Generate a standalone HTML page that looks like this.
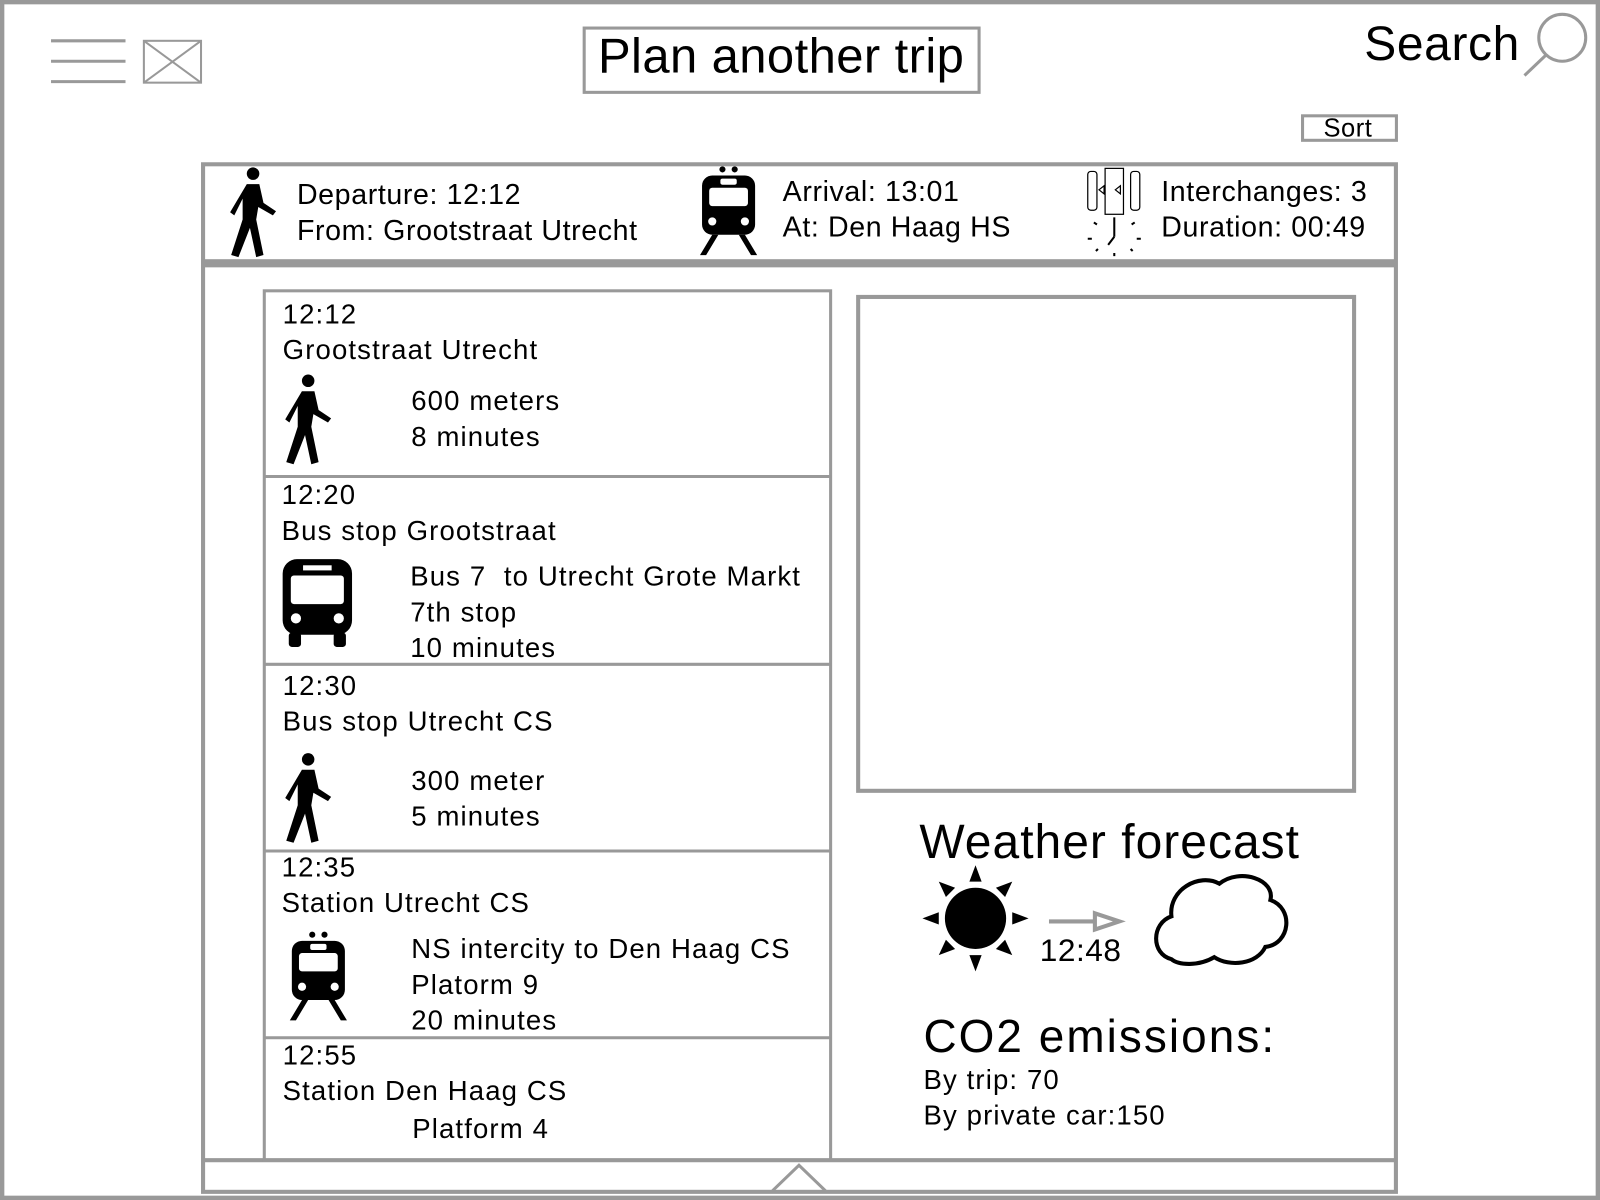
<!DOCTYPE html>
<html><head><meta charset="utf-8"><style>
html,body{margin:0;padding:0;background:#fff;width:1600px;height:1200px;overflow:hidden}
#w{position:absolute;left:0;top:0;width:1568px;height:1176px;transform:scale(1.020408);transform-origin:0 0;font-family:"Liberation Sans",sans-serif;color:#000}
.a{position:absolute;box-sizing:border-box}
.t{position:absolute;white-space:nowrap;line-height:1}
.l{letter-spacing:1.1px}
.h{letter-spacing:0.6px}
.g{border:3px solid #999}
</style></head><body>
<div id="w">
<svg class="a" style="left:0;top:0" width="1568" height="1176">
<defs>
<symbol id="walk" viewBox="0 0 60 90"><circle cx="30" cy="8" r="6"/><path d="M24 18 L36 18 L40 36 L52 44 L49 48 L35 40 L33 52 L40 86 L33 88 L27 60 L16 88 L9 86 L20 52 L20 32 L12 48 L8 45 Z"/></symbol>
<symbol id="train" viewBox="0 0 60 90"><circle cx="24" cy="4" r="3"/><circle cx="36" cy="4" r="3"/><rect x="4" y="10" width="52" height="58" rx="10"/><rect x="11" y="22" width="38" height="18" rx="3" fill="#fff"/><rect x="22" y="13" width="16" height="6" rx="2" fill="#fff"/><circle cx="14" cy="55" r="4" fill="#fff"/><circle cx="46" cy="55" r="4" fill="#fff"/><path d="M14 68 L20 68 L8 88 L2 88 Z M40 68 L46 68 L58 88 L52 88 Z"/></symbol>
<symbol id="bus" viewBox="0 0 72 90"><rect x="2" y="2" width="68" height="74" rx="14"/><rect x="10" y="18" width="52" height="28" rx="3" fill="#fff"/><rect x="22" y="8" width="28" height="5" fill="#fff"/><circle cx="15" cy="60" r="5" fill="#fff"/><circle cx="57" cy="60" r="5" fill="#fff"/><rect x="8" y="74" width="12" height="14" rx="3"/><rect x="52" y="74" width="12" height="14" rx="3"/></symbol>
</defs>
<rect x="2" y="2" width="1564" height="1172" fill="none" stroke="#999" stroke-width="4.5"/>
<g stroke="#999" stroke-width="3"><line x1="50" y1="40" x2="123" y2="40"/><line x1="50" y1="60" x2="123" y2="60"/><line x1="50" y1="80" x2="123" y2="80"/></g>
<g stroke="#999" stroke-width="2" fill="none"><rect x="141" y="40" width="56" height="41"/><path d="M141 40 L197 81 M197 40 L141 81"/></g>
<g stroke="#999" stroke-width="3" fill="none"><circle cx="1531" cy="37" r="23"/><line x1="1515" y1="54" x2="1494" y2="74"/></g>
<rect x="199" y="161" width="1169" height="1007" fill="none" stroke="#999" stroke-width="4"/>
<rect x="199" y="254" width="1169" height="8" fill="#999"/>
<line x1="199" y1="1137" x2="1368" y2="1137" stroke="#999" stroke-width="4"/>
<path d="M757 1167 L783 1142 L809 1167" fill="none" stroke="#999" stroke-width="3"/>
<rect x="259" y="285" width="555" height="852" fill="none" stroke="#999" stroke-width="3"/>
<g stroke="#999" stroke-width="3"><line x1="259" y1="467" x2="814" y2="467"/><line x1="259" y1="651" x2="814" y2="651"/><line x1="259" y1="834" x2="814" y2="834"/><line x1="259" y1="1017" x2="814" y2="1017"/></g>
<rect x="841" y="291" width="486" height="484" fill="none" stroke="#999" stroke-width="4"/>
<use href="#walk" x="216" y="162" width="64" height="92"/>
<use href="#train" x="684" y="162" width="60" height="90"/>
<use href="#walk" x="270" y="365" width="64" height="92"/>
<use href="#bus" x="274" y="546" width="74" height="90"/>
<use href="#walk" x="270" y="736" width="64" height="92"/>
<use href="#train" x="282" y="912" width="60" height="90"/>
<g stroke="#000" fill="none" stroke-width="1.2"><rect x="1066" y="168" width="9" height="38" rx="3"/><rect x="1108" y="168" width="9" height="38" rx="3"/><rect x="1083" y="165" width="18" height="45"/><path d="M1077 186 l5-4 v8 z M1093 186 l5-4 v8 z"/></g>
<g stroke="#000" stroke-width="2"><line x1="1092" y1="213" x2="1092" y2="232"/><line x1="1092" y1="232" x2="1086" y2="240"/><path d="M1072 218 l3 2 M1112 218 l-3 2 M1066 234 h4 M1114 234 h4 M1074 246 l2-2 M1110 246 l-2-2 M1092 248 v3"/></g>
<g><circle cx="956" cy="900" r="30"/><path d="M956 848 l-6 16 h12z M956 952 l-6-16 h12z M904 900 l16-6 v12z M1008 900 l-16-6 v12z M920 864 l16 6 -9 9z M992 864 l-16 6 9 9z M920 936 l16-6 -9-9z M992 936 l-16-6 9-9z"/></g>
<g stroke="#999" stroke-width="4" fill="none"><line x1="1028" y1="903" x2="1072" y2="903"/><path d="M1073 895 L1097 903 L1073 911 Z"/></g>
<path d="M1148 940 C1128 935 1128 905 1148 898 C1145 872 1175 855 1195 866 C1215 850 1250 862 1245 882 C1268 890 1265 925 1240 928 C1232 945 1205 948 1190 938 C1175 947 1155 946 1148 940 Z" fill="none" stroke="#000" stroke-width="4"/>
</svg>
<div class="a g" style="left:571px;top:26px;width:390px;height:66px"></div>
<div class="t" style="left:586px;top:32px;font-size:48px;letter-spacing:0.4px">Plan another trip</div>
<div class="t" style="left:1337px;top:19px;font-size:47px;letter-spacing:0.6px">Search</div>
<div class="a g" style="left:1275px;top:112px;width:95px;height:27px"></div>
<div class="t" style="left:1297px;top:114px;font-size:25px;letter-spacing:0.5px">Sort</div>
<div class="t h" style="left:291px;top:173px;font-size:28px;line-height:35px">Departure: 12:12<br>From: Grootstraat Utrecht</div>
<div class="t h" style="left:767px;top:170px;font-size:28px;line-height:35px">Arrival: 13:01<br>At: Den Haag HS</div>
<div class="t h" style="left:1138px;top:170px;font-size:28px;line-height:35px">Interchanges: 3<br>Duration: 00:49</div>
<div class="t l" style="left:277px;top:291px;font-size:27px;line-height:35px">12:12<br>Grootstraat Utrecht</div>
<div class="t l" style="left:403px;top:376px;font-size:27px;line-height:35px">600 meters<br>8 minutes</div>
<div class="t l" style="left:276px;top:468px;font-size:27px;line-height:35px">12:20<br>Bus stop Grootstraat</div>
<div class="t l" style="left:402px;top:548px;font-size:27px;line-height:35px">Bus 7&nbsp; to Utrecht Grote Markt<br>7th stop<br>10 minutes</div>
<div class="t l" style="left:277px;top:655px;font-size:27px;line-height:35px">12:30<br>Bus stop Utrecht CS</div>
<div class="t l" style="left:403px;top:748px;font-size:27px;line-height:35px">300 meter<br>5 minutes</div>
<div class="t l" style="left:276px;top:833px;font-size:27px;line-height:35px">12:35<br>Station Utrecht CS</div>
<div class="t l" style="left:403px;top:913px;font-size:27px;line-height:35px">NS intercity to Den Haag CS<br>Platorm 9<br>20 minutes</div>
<div class="t l" style="left:277px;top:1017px;font-size:27px;line-height:35px">12:55<br>Station Den Haag CS</div>
<div class="t l" style="left:404px;top:1093px;font-size:27px">Platform 4</div>
<div class="t" style="left:901px;top:801px;font-size:47px;letter-spacing:1px">Weather forecast</div>
<div class="t" style="left:1019px;top:916px;font-size:31px;letter-spacing:0.5px">12:48</div>
<div class="t" style="left:905px;top:993px;font-size:45px;letter-spacing:2px">CO2 emissions:</div>
<div class="t l" style="left:905px;top:1041px;font-size:27px;line-height:35px">By trip: 70<br>By private car:150</div>
</div>
</body></html>
